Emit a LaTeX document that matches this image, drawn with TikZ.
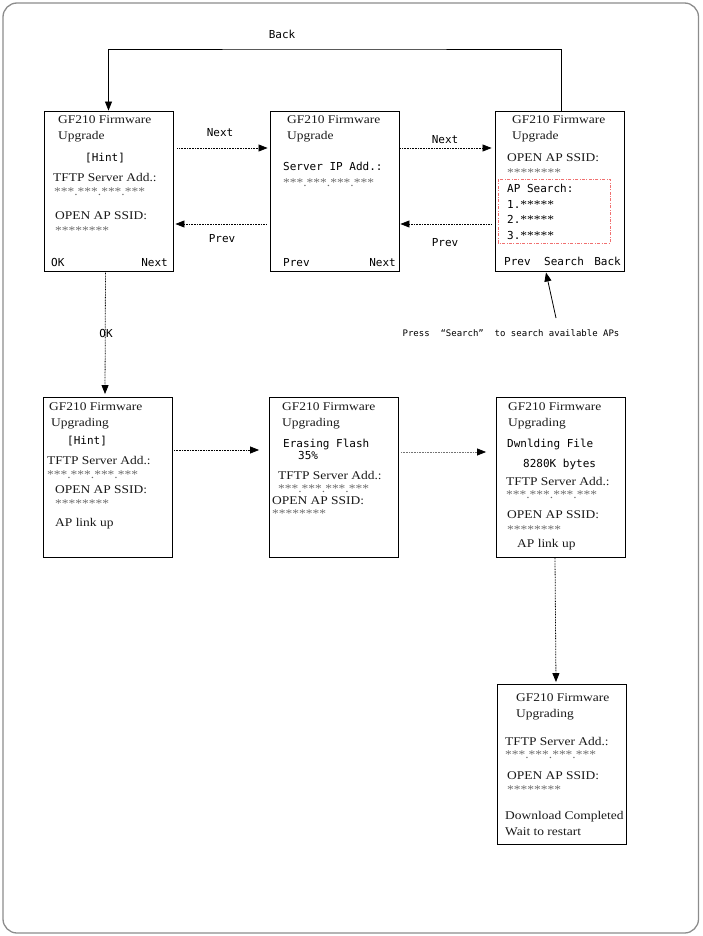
\documentclass[tikz,border=0pt]{standalone}
\usepackage{fontspec}
\usetikzlibrary{arrows.meta,calc}
\newfontfamily\serfam[FakeStretch=1.14]{Liberation Serif}
\newfontfamily\monofam{DejaVu Sans Mono}
\newcommand\serf{\serfam\fontsize{11.8}{14}\selectfont}
\newcommand\monof{\monofam\fontsize{11}{13}\selectfont}
\newcommand\annf{\monofam\fontsize{9}{11}\selectfont}
\definecolor{starc}{HTML}{6A6A6A}
\definecolor{framec}{HTML}{8C8C8C}
\definecolor{redbox}{HTML}{F07070}
\begin{document}
\begin{tikzpicture}[x=1pt,y=-1pt,
  scr/.style={draw=black,line width=0.9pt,minimum width=129pt,minimum height=160pt,inner sep=0pt},
  ser/.style={anchor=base west,inner sep=0pt,font=\serf,text=black!90},
  stars/.style={anchor=base west,inner sep=0pt,font=\serf,text=starc},
  mono/.style={anchor=base west,inner sep=0pt,font=\monof},
  monoe/.style={anchor=base east,inner sep=0pt,font=\monof},
  lbl/.style={inner sep=0pt,font=\monof},
  tipa/.style={-{Triangle[length=9pt,width=7pt,color=black]}},
  dotarr/.style={tipa,line width=0.8pt,dash pattern=on 0.8pt off 0.8pt},
  solarr/.style={tipa,line width=0.8pt}]
\useasboundingbox (0,0) rectangle (702,936);
\draw[framec,line width=1.3pt,rounded corners=14pt] (3,3) rectangle (698.5,933);

% screens
\node[scr] (b1) at (108.5,191) {};
\node[scr] (b2) at (334.5,191) {};
\node[scr] (b3) at (559.5,191) {};
\node[scr] (b4) at (108,477.5) {};
\node[scr] (b5) at (334,477.5) {};
\node[scr] (b6) at (561,477.5) {};
\node[scr] (b7) at (562,764.5) {};

% box 1
\node[ser] (t1a) at (58,124) {GF210 Firmware};
\node[ser] (t1b) at (58,140) {Upgrade};
\node[mono] (t1c) at (85,161) {[Hint]};
\node[ser] (t1d) at (53,182) {TFTP Server Add.:};
\node[stars] (t1e) at (54,196) {***.***.***.***};
\node[ser] (t1f) at (55,219) {OPEN AP SSID:};
\node[stars] (t1g) at (55,234) {********};
\node[mono] (t1h) at (51,266) {OK};
\node[monoe] (t1i) at (168,266) {Next};

% box 2
\node[ser] (t2a) at (287,124) {GF210 Firmware};
\node[ser] (t2b) at (287,140) {Upgrade};
\node[mono] (t2c) at (283,171) {Server IP Add.:};
\node[stars] (t2d) at (283,186) {***.***.***.***};
\node[mono] (t2e) at (283,266) {Prev};
\node[monoe] (t2f) at (396,266) {Next};

% box 3
\node[ser] (t3a) at (512,124) {GF210 Firmware};
\node[ser] (t3b) at (512,140) {Upgrade};
\node[ser] (t3c) at (507,161) {OPEN AP SSID:};
\node[stars] (t3d) at (507,177) {********};
\node[mono] (t3e) at (507,193) {AP Search:};
\node[mono] (t3f) at (507,208) {1.{\serf *****}};
\node[mono] (t3g) at (507,223) {2.{\serf *****}};
\node[mono] (t3h) at (507,239) {3.{\serf *****}};
\node[mono] (t3i) at (504,265) {Prev};
\node[mono] (t3j) at (544,265) {Search};
\node[monoe] (t3k) at (621,265) {Back};
\draw[redbox,line width=0.7pt,dash pattern=on 3pt off 1.5pt on 0.8pt off 1.5pt] (498,179) rectangle (610,243);

% box 4
\node[ser] (t4a) at (49,410) {GF210 Firmware};
\node[ser] (t4b) at (51,426) {Upgrading};
\node[mono] (t4c) at (67,444) {[Hint]};
\node[ser] (t4d) at (47,464) {TFTP Server Add.:};
\node[stars] (t4e) at (47,478) {***.***.***.***};
\node[ser] (t4f) at (55,493) {OPEN AP SSID:};
\node[stars] (t4g) at (55,507) {********};
\node[ser] (t4h) at (55,526) {AP link up};

% box 5
\node[ser] (t5a) at (282,410) {GF210 Firmware};
\node[ser] (t5b) at (282,426) {Upgrading};
\node[mono] (t5c) at (283,447) {Erasing Flash};
\node[mono] (t5d) at (298,459) {35\%};
\node[ser] (t5e) at (278,479) {TFTP Server Add.:};
\node[stars] (t5f) at (278,492) {***.***.***.***};
\node[ser] (t5g) at (272,504) {OPEN AP SSID:};
\node[stars] (t5h) at (272,517) {********};

% box 6
\node[ser] (t6a) at (508,410) {GF210 Firmware};
\node[ser] (t6b) at (508,426) {Upgrading};
\node[mono] (t6c) at (507,447) {Dwnlding File};
\node[mono] (t6d) at (523,467) {8280K bytes};
\node[ser] (t6e) at (506,485) {TFTP Server Add.:};
\node[stars] (t6f) at (506,498) {***.***.***.***};
\node[ser] (t6g) at (507,518) {OPEN AP SSID:};
\node[stars] (t6h) at (507,533) {********};
\node[ser] (t6i) at (517,547) {AP link up};

% box 7
\node[ser] (t7a) at (516,701) {GF210 Firmware};
\node[ser] (t7b) at (516,717) {Upgrading};
\node[ser] (t7c) at (505,745) {TFTP Server Add.:};
\node[stars] (t7d) at (505,758) {***.***.***.***};
\node[ser] (t7e) at (507,779) {OPEN AP SSID:};
\node[stars] (t7f) at (507,793) {********};
\node[ser] (t7g) at (505,819) {Download Completed};
\node[ser] (t7h) at (505,835) {Wait to restart};

% connectors
\coordinate (backtop) at (334,49);
\draw[solarr] ([xshift=1.5pt]b3.north) |- (backtop) -| (b1.north);
\node[lbl] (lback) at (282,34) {Back};

\draw[dotarr,shorten <=4pt,shorten >=2pt] ([yshift=43pt]b1.east) -- ([yshift=43pt]b2.west);
\node[lbl] (lnext1) at (220,133) {Next};
\draw[dotarr,shorten <=3pt,shorten >=2pt] ([yshift=-33pt]b2.west) -- ([yshift=-33pt]b1.east);
\node[lbl] (lprev1) at (222,239) {Prev};
\draw[dotarr,shorten <=1pt,shorten >=3pt] ([yshift=43pt]b2.east) -- ([yshift=43pt]b3.west);
\node[lbl] (lnext2) at (445,140) {Next};
\draw[dotarr,shorten <=3pt,shorten >=1pt] ([yshift=-33pt]b3.west) -- ([yshift=-33pt]b2.east);
\node[lbl] (lprev2) at (445,243) {Prev};

\draw[dotarr,shorten >=3pt] ([xshift=-3pt]b1.south) -- ([xshift=-3pt]b4.north);
\node[lbl] (lok) at (106,333) {OK};

\draw[dotarr,shorten <=1pt,shorten >=10pt] ([yshift=27.5pt]b4.east) -- ([yshift=27.5pt]b5.west);
\draw[dotarr,draw=black!55,shorten <=2pt,shorten >=10pt] ([yshift=25.5pt]b5.east) -- ([yshift=25.5pt]b6.west);
\draw[dotarr,shorten >=2pt] ([xshift=-6pt]b6.south) -- ([xshift=-6pt]b7.north);

\coordinate (psearch) at (556,318);
\draw[solarr] (psearch) -- ([xshift=-13.5pt,yshift=-1pt]b3.south);
\node[inner sep=0pt,font=\annf] (lsearch) at (511,333) {Press \ “Search” \ to search available APs};
\end{tikzpicture}
\end{document}
